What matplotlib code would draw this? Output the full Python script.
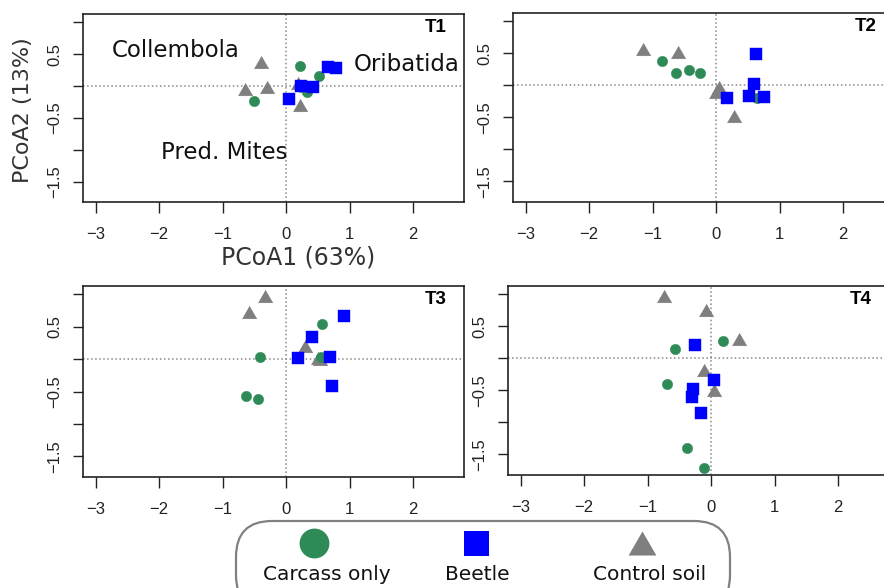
import numpy as np
import matplotlib
matplotlib.use("Agg")
import matplotlib.pyplot as plt
from matplotlib.patches import FancyBboxPatch

# PCoA scores per time point (x = PCoA1, y = PCoA2)
t1_carcass_x = [-0.50, 0.22, 0.51, 0.33, 0.24]
t1_carcass_y = [-0.23, 0.32, 0.15, -0.09, -0.02]
t1_beetle_x = [0.05, 0.23, 0.42, 0.66, 0.79]
t1_beetle_y = [-0.20, 0.00, -0.01, 0.30, 0.28]
t1_control_x = [-0.40, -0.65, -0.30, 0.19, 0.21]
t1_control_y = [0.38, -0.04, -0.02, 0.04, -0.30]

t2_carcass_x = [-0.85, -0.63, -0.43, -0.26, 0.64]
t2_carcass_y = [0.38, 0.20, 0.24, 0.20, -0.19]
t2_beetle_x = [0.63, 0.59, 0.52, 0.76, 0.17]
t2_beetle_y = [0.49, 0.02, -0.16, -0.18, -0.19]
t2_control_x = [-1.15, -0.60, 0.04, -0.01, 0.28]
t2_control_y = [0.57, 0.52, -0.03, -0.11, -0.47]

t3_carcass_x = [-0.41, -0.64, -0.44, 0.57, 0.55]
t3_carcass_y = [0.03, -0.57, -0.61, 0.55, 0.03]
t3_beetle_x = [0.91, 0.40, 0.19, 0.69, 0.72]
t3_beetle_y = [0.67, 0.35, 0.02, 0.03, -0.42]
t3_control_x = [-0.34, -0.59, 0.29, 0.53, 0.50]
t3_control_y = [0.97, 0.73, 0.20, 0.00, 0.02]

t4_carcass_x = [0.19, -0.57, -0.69, -0.38, -0.12]
t4_carcass_y = [0.27, 0.14, -0.40, -1.40, -1.71]
t4_beetle_x = [-0.26, 0.04, -0.28, -0.30, -0.16]
t4_beetle_y = [0.21, -0.33, -0.47, -0.60, -0.85]
t4_control_x = [-0.75, -0.08, 0.44, -0.12, 0.04]
t4_control_y = [0.98, 0.76, 0.31, -0.18, -0.49]

panel_names = ["T1", "T2", "T3", "T4"]
group_names = ["Carcass only", "Beetle", "Control soil"]
x_ticks = [-3, -2, -1, 0, 1, 2]
y_ticks = [-1.5, -1.0, -0.5, 0.0, 0.5, 1.0]
y_ticklabels = ["\u22121.5", "", "\u22120.5", "", "0.5", ""]

GREEN = "#2e8b57"
BLUE = "#0000ff"
GRAY = "#7f7f7f"
# equilateral triangle like R's pch 17
TRI = [(-1, -0.866), (1, -0.866), (0, 0.866)]

W, H = 884, 588
fig = plt.figure(figsize=(W / 100, H / 100), dpi=100)

# axes boxes in pixels: left, top, right, bottom
boxes = [(83, 14, 464, 202), (513, 13, 894, 202),
         (83, 286, 464, 477), (508, 286, 889, 475)]

data = [
    (t1_carcass_x, t1_carcass_y, t1_beetle_x, t1_beetle_y, t1_control_x, t1_control_y),
    (t2_carcass_x, t2_carcass_y, t2_beetle_x, t2_beetle_y, t2_control_x, t2_control_y),
    (t3_carcass_x, t3_carcass_y, t3_beetle_x, t3_beetle_y, t3_control_x, t3_control_y),
    (t4_carcass_x, t4_carcass_y, t4_beetle_x, t4_beetle_y, t4_control_x, t4_control_y),
]

tick_font = dict(family="Liberation Sans", size=12)

axes = []
for i, (l, t, r, b) in enumerate(boxes):
    ax = fig.add_axes([l / W, 1 - b / H, (r - l) / W, (b - t) / H])
    cx, cy, bx, by, gx, gy = data[i]
    ax.axhline(0, color="#888888", ls=":", lw=1.1, zorder=1)
    ax.axvline(0, color="#888888", ls=":", lw=1.1, zorder=1)
    ax.plot(gx, gy, ls="none", marker=TRI, ms=10.5, color=GRAY, mec=GRAY, mew=0.3, zorder=3)
    ax.plot(cx, cy, ls="none", marker="o", ms=7.5, color=GREEN, mec=GREEN, mew=0.3, zorder=3)
    ax.plot(bx, by, ls="none", marker="s", ms=8, color=BLUE, mec=BLUE, mew=0.3, zorder=4)
    ax.set_xlim(-3.2, 2.8)
    ax.set_ylim(-1.82, 1.13)
    ax.set_xticks(x_ticks)
    ax.set_xticklabels(["\u2212%d" % -v if v < 0 else str(v) for v in x_ticks], **tick_font)
    ax.set_yticks(y_ticks)
    ax.set_yticklabels(y_ticklabels, rotation=90, va="center", **tick_font)
    ax.tick_params(axis="x", length=8, width=1, pad=10, colors="#222222")
    ax.tick_params(axis="y", length=7, width=1, pad=8, colors="#222222")
    for s in ax.spines.values():
        s.set_linewidth(1.2)
        s.set_color("#222222")
    ax.text(0.955, 0.93, panel_names[i], transform=ax.transAxes, ha="right", va="center",
            fontsize=13.5, fontweight="bold", family="Liberation Sans")
    axes.append(ax)

# group labels in first panel
ax1 = axes[0]
ax1.text(-2.74, 0.56, "Collembola", fontsize=16.5, ha="left", va="center", color="#111111")
ax1.text(1.07, 0.34, "Oribatida", fontsize=16.5, ha="left", va="center", color="#111111")
ax1.text(-1.97, -1.04, "Pred. Mites", fontsize=16.5, ha="left", va="center", color="#111111")

fig.text(298 / W, 1 - 258 / H, "PCoA1 (63%)", fontsize=17, ha="center", va="center", color="#333333")
fig.text(23 / W, 1 - 110 / H, "PCoA2 (13%)", fontsize=16, ha="center", va="center",
         rotation=90, color="#333333")

# legend drawn in pixel space
lax = fig.add_axes([0, 0, 1, 1], zorder=10)
lax.set_xlim(0, W)
lax.set_ylim(H, 0)
lax.axis("off")
lax.patch.set_alpha(0)
box = FancyBboxPatch((236, 521), 494, 90, boxstyle="round,pad=0,rounding_size=36",
                     fc="white", ec="#808080", lw=1.6)
lax.add_patch(box)
key_x = [314, 476, 642]
label_x = [327, 477, 650]
key_style = [dict(marker="o", ms=21.5, color=GREEN),
             dict(marker="s", ms=18, color=BLUE),
             dict(marker=TRI, ms=20, color=GRAY)]
for kx, lx, name, st in zip(key_x, label_x, group_names, key_style):
    lax.plot([kx], [543], ls="none", mew=0, **st)
    lax.text(lx, 574, name, fontsize=14.5, ha="center", va="center", color="#111111")

fig.savefig("out.png", dpi=100)
